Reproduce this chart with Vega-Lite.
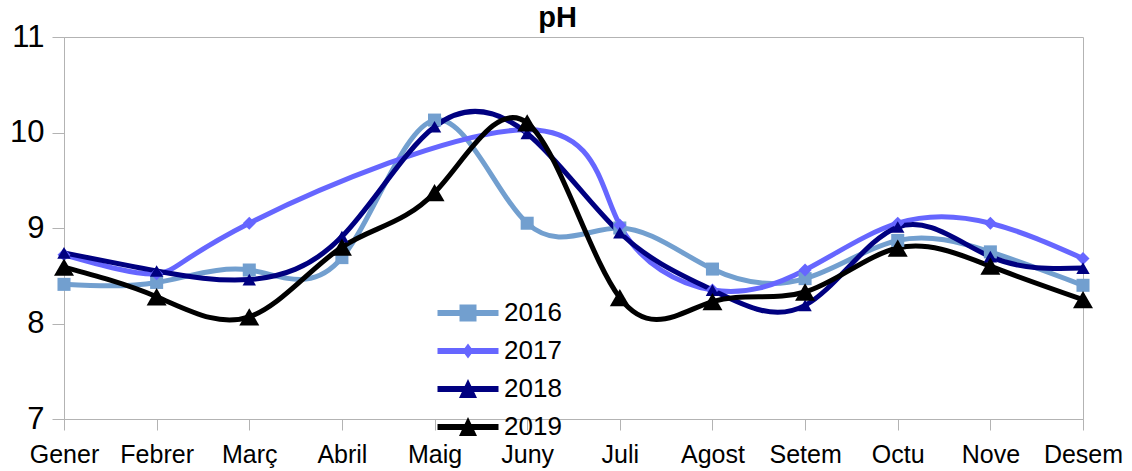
{
  "$schema": "https://vega.github.io/schema/vega-lite/v6.json",
  "width": 1019,
  "height": 382,
  "autosize": {"type": "none"},
  "padding": {"left": 64, "top": 37, "right": 49, "bottom": 52},
  "background": "white",
  "title": {"text": "pH", "font": "Liberation Sans", "fontSize": 29, "fontWeight": "bold", "color": "black", "frame": "group", "anchor": "middle", "dx": -16, "baseline": "alphabetic", "offset": -8, "dy": 27},
  "config": {
    "view": {"stroke": "#b3b3b3", "strokeWidth": 1},
    "axis": {"labelFont": "Liberation Sans", "labelColor": "black", "domainColor": "#b3b3b3", "tickColor": "#b3b3b3", "grid": false, "title": null},
    "legend": {"labelFont": "Liberation Sans", "labelFontSize": 26, "labelColor": "black", "symbolSize": 400, "symbolOpacity": 1, "symbolStrokeWidth": 0, "labelOffset": 23, "rowPadding": 12, "title": null, "padding": 0}
  },
  "data": {"values": [
    {"month": "Gener", "year": "2016", "pH": 8.41},
    {"month": "Febrer", "year": "2016", "pH": 8.43},
    {"month": "Març", "year": "2016", "pH": 8.56},
    {"month": "Abril", "year": "2016", "pH": 8.69},
    {"month": "Maig", "year": "2016", "pH": 10.13},
    {"month": "Juny", "year": "2016", "pH": 9.05},
    {"month": "Juli", "year": "2016", "pH": 9.0},
    {"month": "Agost", "year": "2016", "pH": 8.57},
    {"month": "Setem", "year": "2016", "pH": 8.47},
    {"month": "Octu", "year": "2016", "pH": 8.87},
    {"month": "Nove", "year": "2016", "pH": 8.75},
    {"month": "Desem", "year": "2016", "pH": 8.4},
    {"month": "Gener", "year": "2017", "pH": 8.72},
    {"month": "Febrer", "year": "2017", "pH": 8.52},
    {"month": "Març", "year": "2017", "pH": 9.05},
    {"month": "Juny", "year": "2017", "pH": 10.03},
    {"month": "Juli", "year": "2017", "pH": 9.03},
    {"month": "Agost", "year": "2017", "pH": 8.35},
    {"month": "Setem", "year": "2017", "pH": 8.56},
    {"month": "Octu", "year": "2017", "pH": 9.05},
    {"month": "Nove", "year": "2017", "pH": 9.05},
    {"month": "Desem", "year": "2017", "pH": 8.68},
    {"month": "Gener", "year": "2018", "pH": 8.74},
    {"month": "Febrer", "year": "2018", "pH": 8.55},
    {"month": "Març", "year": "2018", "pH": 8.46},
    {"month": "Abril", "year": "2018", "pH": 8.91},
    {"month": "Maig", "year": "2018", "pH": 10.06},
    {"month": "Juny", "year": "2018", "pH": 9.99},
    {"month": "Juli", "year": "2018", "pH": 8.95},
    {"month": "Agost", "year": "2018", "pH": 8.35},
    {"month": "Setem", "year": "2018", "pH": 8.19},
    {"month": "Octu", "year": "2018", "pH": 9.01},
    {"month": "Nove", "year": "2018", "pH": 8.7},
    {"month": "Desem", "year": "2018", "pH": 8.58},
    {"month": "Gener", "year": "2019", "pH": 8.59},
    {"month": "Febrer", "year": "2019", "pH": 8.28},
    {"month": "Març", "year": "2019", "pH": 8.07},
    {"month": "Abril", "year": "2019", "pH": 8.8},
    {"month": "Maig", "year": "2019", "pH": 9.37},
    {"month": "Juny", "year": "2019", "pH": 10.1},
    {"month": "Juli", "year": "2019", "pH": 8.27},
    {"month": "Agost", "year": "2019", "pH": 8.23},
    {"month": "Setem", "year": "2019", "pH": 8.33},
    {"month": "Octu", "year": "2019", "pH": 8.79},
    {"month": "Nove", "year": "2019", "pH": 8.6},
    {"month": "Desem", "year": "2019", "pH": 8.25}
  ]},
  "encoding": {
    "x": {"field": "month", "type": "nominal", "scale": {"type": "point", "padding": 0, "domain": ["Gener", "Febrer", "Març", "Abril", "Maig", "Juny", "Juli", "Agost", "Setem", "Octu", "Nove", "Desem"]},
      "axis": {"labelAngle": 0, "tickSize": 11, "labelPadding": 12, "labelFontSize": 25}},
    "y": {"field": "pH", "type": "quantitative", "scale": {"domain": [7, 11], "nice": false, "zero": false},
      "axis": {"values": [7, 8, 9, 10, 11], "tickSize": 12, "labelPadding": 8, "labelFontSize": 31}}
  },
  "layer": [
    {"mark": {"type": "line", "interpolate": "natural", "strokeWidth": 5},
     "encoding": {"color": {"field": "year", "type": "nominal", "scale": {"domain": ["2016", "2017", "2018", "2019"], "range": ["#729fcf", "#6666ff", "#000080", "#000000"]}}}},
    {"transform": [{"filter": "datum.year == '2016'"}],
     "mark": {"type": "point", "shape": "square", "size": 170, "filled": true, "opacity": 1},
     "encoding": {"color": {"field": "year", "type": "nominal"}}},
    {"transform": [{"filter": "datum.year == '2017'"}],
     "mark": {"type": "point", "shape": "diamond", "size": 170, "filled": true, "opacity": 1},
     "encoding": {"color": {"field": "year", "type": "nominal"}}},
    {"transform": [{"filter": "datum.year == '2018'"}],
     "mark": {"type": "point", "shape": "triangle-up", "size": 180, "filled": true, "opacity": 1},
     "encoding": {"color": {"field": "year", "type": "nominal"}}},
    {"transform": [{"filter": "datum.year == '2019'"}],
     "mark": {"type": "point", "shape": "triangle-up", "size": 400, "filled": true, "opacity": 1},
     "encoding": {"color": {"field": "year", "type": "nominal"}}},
    {"mark": {"type": "point", "filled": true, "opacity": 0},
     "encoding": {
       "color": {"field": "year", "type": "nominal", "legend": {"orient": "none", "legendX": 391, "legendY": 263, "symbolOpacity": 1}},
       "shape": {"field": "year", "type": "nominal", "scale": {"domain": ["2016", "2017", "2018", "2019"], "range": [
         "M-3.05,-0.3H3.05V0.3H-3.05Z M-0.85,-0.85H0.85V0.85H-0.85Z",
         "M-3.05,-0.3H3.05V0.3H-3.05Z M0,-0.75L0.55,0L0,0.75L-0.55,0Z",
         "M-3.05,-0.3H3.05V0.3H-3.05Z M0,-1L0.9,0.9L-0.9,0.9Z",
         "M-3.05,-0.3H3.05V0.3H-3.05Z M0,-1L0.9,0.9L-0.9,0.9Z"]},
         "legend": {"orient": "none", "legendX": 391, "legendY": 263, "symbolOpacity": 1}}
     }}
  ]
}
